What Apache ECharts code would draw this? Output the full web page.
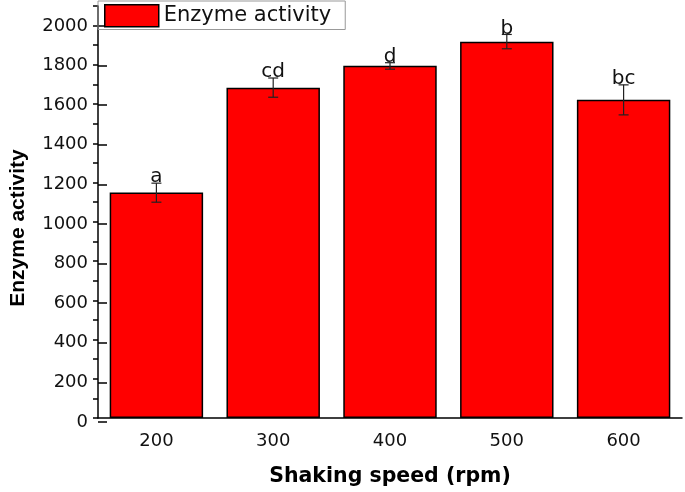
<!DOCTYPE html>
<html>
<head>
<meta charset="utf-8">
<script src="https://cdn.jsdelivr.net/npm/echarts@6/dist/echarts.min.js"></script>
<style>
  html, body { margin: 0; padding: 0; background: #fff; }
  #chart { width: 685px; height: 492px; }
</style>
</head>
<body>
<div id="chart"></div>
<script>
// shaking speed (rpm) categories
const speeds = ['200', '300', '400', '500', '600'];
// mean enzyme activity
const activity = [1150, 1683, 1795, 1918, 1622];
// error (± sd)
const errLow = [1100, 1635, 1778, 1882, 1545];
const errHigh = [1197, 1733, 1811, 1955, 1698];
// significance letters
const letters = ['a', 'cd', 'd', 'b', 'bc'];

const font = 'DejaVu Sans, Arial, sans-serif';
const chart = echarts.init(document.getElementById('chart'));

const errData = speeds.map((s, i) => [i, errLow[i], errHigh[i], letters[i]]);

const option = {
  animation: false,
  grid: [
    { left: 98, right: 3, top: 6, bottom: 70 },
    { left: 98, right: 3, top: 26, bottom: 70 }
  ],
  legend: {
    left: 98,
    top: 1,
    padding: [3, 14, 2, 6],
    itemWidth: 54,
    itemHeight: 22,
    itemGap: 6,
    icon: 'rect',
    borderColor: '#999',
    borderWidth: 1,
    textStyle: { fontFamily: font, fontSize: 21, color: '#111' },
    data: [{ name: 'Enzyme activity', itemStyle: { color: '#ff0000', borderColor: '#000', borderWidth: 1.5 } }]
  },
  xAxis: [
    {
      type: 'category',
      gridIndex: 0,
      data: speeds,
      axisLine: { lineStyle: { color: '#000', width: 1.5 } },
      axisTick: { alignWithLabel: false, length: 6, lineStyle: { color: '#000', width: 1.5 } },
      axisLabel: { fontFamily: font, fontSize: 18, color: '#111', margin: 14 },
      name: 'Shaking speed (rpm)',
      nameLocation: 'middle',
      nameGap: 48,
      nameTextStyle: { fontFamily: font, fontSize: 20.5, fontWeight: 'bold', color: '#000' }
    },
    {
      type: 'category',
      gridIndex: 1,
      data: speeds,
      show: false
    }
  ],
  yAxis: [
    {
      // minor ticks every 100 and the axis line
      type: 'value',
      gridIndex: 0,
      min: 0,
      max: 2100,
      interval: 100,
      axisLine: { show: true, lineStyle: { color: '#000', width: 1.5 } },
      axisTick: { show: true, length: 5, lineStyle: { color: '#000', width: 1.5 } },
      axisLabel: { show: false },
      splitLine: { show: false }
    },
    {
      // major ticks + labels every 200
      type: 'value',
      gridIndex: 1,
      min: 0,
      max: 2000,
      interval: 200,
      axisLine: { show: false },
      axisTick: { show: true, length: 9, lineStyle: { color: '#000', width: 1.5 } },
      axisLabel: { fontFamily: font, fontSize: 18, color: '#111', margin: 19, formatter: v => String(v) },
      splitLine: { show: false },
      name: 'Enzyme activity',
      nameLocation: 'middle',
      nameGap: 78,
      nameTextStyle: {
        fontFamily: 'Liberation Sans, Arial, sans-serif',
        fontSize: 21,
        fontWeight: 'bold',
        color: '#000',
        padding: [0, 8, 0, 0]
      }
    }
  ],
  series: [
    {
      name: 'Enzyme activity',
      type: 'bar',
      xAxisIndex: 0,
      yAxisIndex: 0,
      data: activity,
      barWidth: '80%',
      itemStyle: { color: '#ff0000', borderColor: '#000', borderWidth: 1.5 }
    },
    {
      name: 'err',
      type: 'custom',
      xAxisIndex: 0,
      yAxisIndex: 0,
      data: errData,
      z: 10,
      renderItem: function (params, api) {
        const x = api.value(0);
        const lo = api.coord([x, api.value(1)]);
        const hi = api.coord([x, api.value(2)]);
        const cap = 5;
        const st = { stroke: '#222', lineWidth: 1.2 };
        return {
          type: 'group',
          children: [
            { type: 'line', shape: { x1: lo[0], y1: lo[1], x2: hi[0], y2: hi[1] }, style: st },
            { type: 'line', shape: { x1: lo[0] - cap, y1: lo[1], x2: lo[0] + cap, y2: lo[1] }, style: st },
            { type: 'line', shape: { x1: hi[0] - cap, y1: hi[1], x2: hi[0] + cap, y2: hi[1] }, style: st },
            {
              type: 'text',
              x: hi[0],
              y: hi[1] + 4,
              style: {
                text: letters[params.dataIndex],
                fontFamily: font,
                fontSize: 20,
                fill: '#111',
                align: 'center',
                verticalAlign: 'bottom'
              }
            }
          ]
        };
      }
    }
  ]
};

chart.setOption(option);
</script>
</body>
</html>
